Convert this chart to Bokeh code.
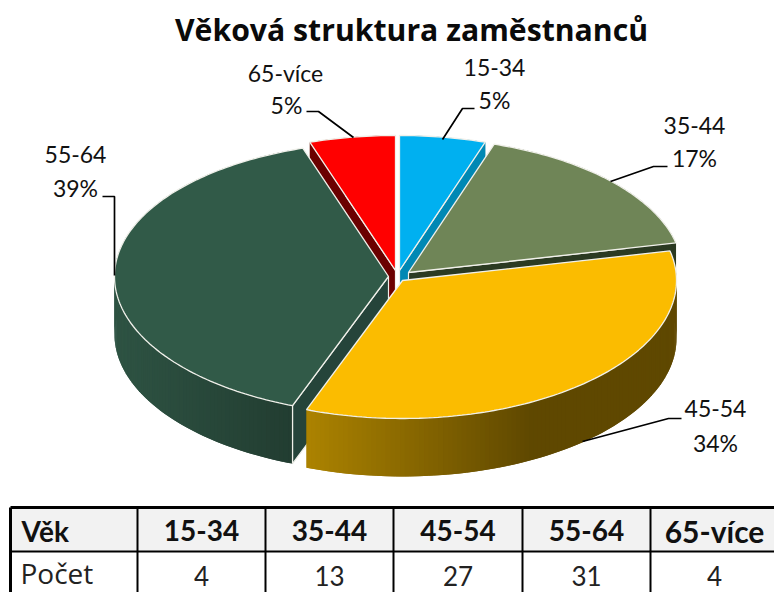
import math
from bokeh.plotting import figure
from bokeh.models import Range1d
from bokeh.core.properties import value
from bokeh.embed import file_html
from bokeh.resources import INLINE

TITLE = "Věková struktura zaměstnanců"
categories = ["15-34", "35-44", "45-54", "55-64", "65-více"]
counts = [4, 13, 27, 31, 4]
percent_labels = ["5%", "17%", "34%", "39%", "5%"]
row_header = "Věk"
row_label = "Počet"

face_colors = ["#00B0F0", "#6F8557", "#FBBC00", "#315A48", "#FF0000"]
wall_colors = ["#0088B4", "#2B3A22", "#6A5000", "#25443A", "#6B0000"]
rim_from = ["#0088B4", "#2B3A22", "#AC8300", "#2E5343", "#6B0000"]
rim_to = ["#0088B4", "#2B3A22", "#5F4800", "#223D31", "#6B0000"]
rim_span = [(0, 1), (0, 1), (306, 530), (115, 292), (0, 1)]
apex = [(399, 270), (408, 272), (402, 280), (388, 276), (395, 270)]
# which radial wall of each slice faces the viewer: 0 = start edge, 1 = end edge, None = neither
visible_wall = [1, 1, None, 0, 0]
RX, RY, DEPTH = 274, 136.5, 58
EDGE = "#F0F0EA"

W, H = 774, 592
p = figure(width=W, height=H, output_backend="svg", toolbar_location=None,
           x_range=Range1d(0, W), y_range=Range1d(H, 0),
           x_axis_location=None, y_axis_location=None, min_border=0, tools="")
p.grid.visible = False
p.outline_line_color = None
p.background_fill_color = "white"
p.border_fill_color = "white"


def hex_mix(a, b, t):
    t = max(0.0, min(1.0, t))
    va = [int(a[i:i + 2], 16) for i in (1, 3, 5)]
    vb = [int(b[i:i + 2], 16) for i in (1, 3, 5)]
    return "#%02X%02X%02X" % tuple(round(x + (y - x) * t) for x, y in zip(va, vb))


def rim(c, deg):
    r = math.radians(deg)
    ry = RY - 1.5 * math.cos(r)
    return c[0] + RX * math.sin(r), c[1] - ry * math.cos(r)


total = sum(counts)
bounds = [0.0]
for v in counts:
    bounds.append(bounds[-1] + 360.0 * v / total)

# far slices first, nearest last
for i in [4, 0, 1, 3, 2]:
    c, a0, a1 = apex[i], bounds[i], bounds[i + 1]
    n = max(4, int(a1 - a0))
    steps = [a0 + (a1 - a0) * k / n for k in range(n + 1)]
    arc = [rim(c, a) for a in steps]

    # radial wall that faces the viewer, extruded downward
    if visible_wall[i] is not None:
        end = arc[-1] if visible_wall[i] == 1 else arc[0]
        xs = [c[0], end[0], end[0], c[0]]
        ys = [c[1], end[1], end[1] + DEPTH, c[1] + DEPTH]
        p.patch(xs, ys, fill_color=wall_colors[i], line_color=EDGE, line_width=1.2)

    # outer rim, shaded strip by strip; each strip overlaps the next to hide seams
    s0, s1 = rim_span[i]
    sx, sy, sc = [], [], []
    for k in range(n):
        xa, ya = arc[k]
        xb, yb = arc[min(k + 2, n)]
        sx.append([xa, xb, xb, xa])
        sy.append([ya, yb, yb + DEPTH, ya + DEPTH])
        sc.append(hex_mix(rim_from[i], rim_to[i], ((xa + arc[k + 1][0]) / 2 - s0) / (s1 - s0)))
    p.patches(sx, sy, fill_color=sc, line_color=None)
    if i == 3:
        # front corner of the dark slice
        p.line([arc[0][0]] * 2, [arc[0][1], arc[0][1] + DEPTH], line_color=EDGE, line_width=1.2)

    # top face
    fx = [c[0]] + [q[0] for q in arc]
    fy = [c[1]] + [q[1] for q in arc]
    p.patch(fx, fy, fill_color=face_colors[i], line_color=EDGE, line_width=1.3)

# leader lines
leaders = [
    ([442, 462, 474], [139, 108, 108]),
    ([610, 653, 667], [181, 166, 166]),
    ([582, 668, 681], [441, 418, 418]),
    ([102, 114, 114], [196, 196, 275]),
    ([306, 318, 353], [111, 111, 137]),
]
for lx, ly in leaders:
    p.line(lx, ly, line_color="black", line_width=1.7)

LABEL_FONT = value("Lato")
name_pos = [(494, 67), (694, 125), (715, 408), (75, 154), (285, 72)]
pct_pos = [(494, 99), (694, 157), (715, 442), (75, 187), (286, 104)]
p.text([q[0] for q in name_pos], [q[1] for q in name_pos], text=categories,
       text_font=LABEL_FONT, text_font_size="23px", text_align="center",
       text_baseline="middle", text_color="#111111")
p.text([q[0] for q in pct_pos], [q[1] for q in pct_pos], text=percent_labels,
       text_font=LABEL_FONT, text_font_size="23px", text_align="center",
       text_baseline="middle", text_color="#111111")

p.text([411], [29], text=[TITLE], text_font=value("Open Sans"), text_font_style="bold",
       text_font_size="30.2px", text_align="center", text_baseline="middle", text_color="#0A0A0A")

# table
col_x = [10, 137, 265, 393, 522, 650, 780]
TOP, MID, BOTTOM = 507, 551, 600
p.quad(left=[col_x[0]], right=[col_x[-1]], top=[TOP], bottom=[MID], fill_color="#F2F2F2", line_color=None)
p.segment(col_x[0], TOP, col_x[-1], TOP, line_color="black", line_width=3)
p.segment(col_x[0], MID, col_x[-1], MID, line_color="black", line_width=2)
for j, xv in enumerate(col_x[:-1]):
    p.segment(xv, TOP, xv, BOTTOM, line_color="black", line_width=3 if j == 0 else 2)

centers = [(col_x[k] + col_x[k + 1]) / 2 for k in range(1, 6)]
centers[-1] = 714
TABLE_FONT = value("Lato")
p.text([21], [530], text=[row_header], text_font=TABLE_FONT, text_font_style="bold",
       text_font_size="28px", text_align="left", text_baseline="middle", text_color="#111111")
p.text(centers[:4], [530] * 4, text=categories[:4], text_font=TABLE_FONT, text_font_style="bold",
       text_font_size="28px", text_align="center", text_baseline="middle", text_color="#111111")
p.text(centers[4:], [530], text=categories[4:], text_font=TABLE_FONT, text_font_style="bold",
       text_font_size="30px", text_align="center", text_baseline="middle", text_color="#111111")
p.text([20], [572.5], text=[row_label], text_font=value("Open Sans"),
       text_font_size="28px", text_align="left", text_baseline="middle", text_color="#222222")
p.text(centers, [575] * 5, text=[str(v) for v in counts], text_font=TABLE_FONT,
       text_font_size="26px", text_align="center", text_baseline="middle", text_color="#222222")

open("out.html", "w").write(file_html(p, INLINE))
